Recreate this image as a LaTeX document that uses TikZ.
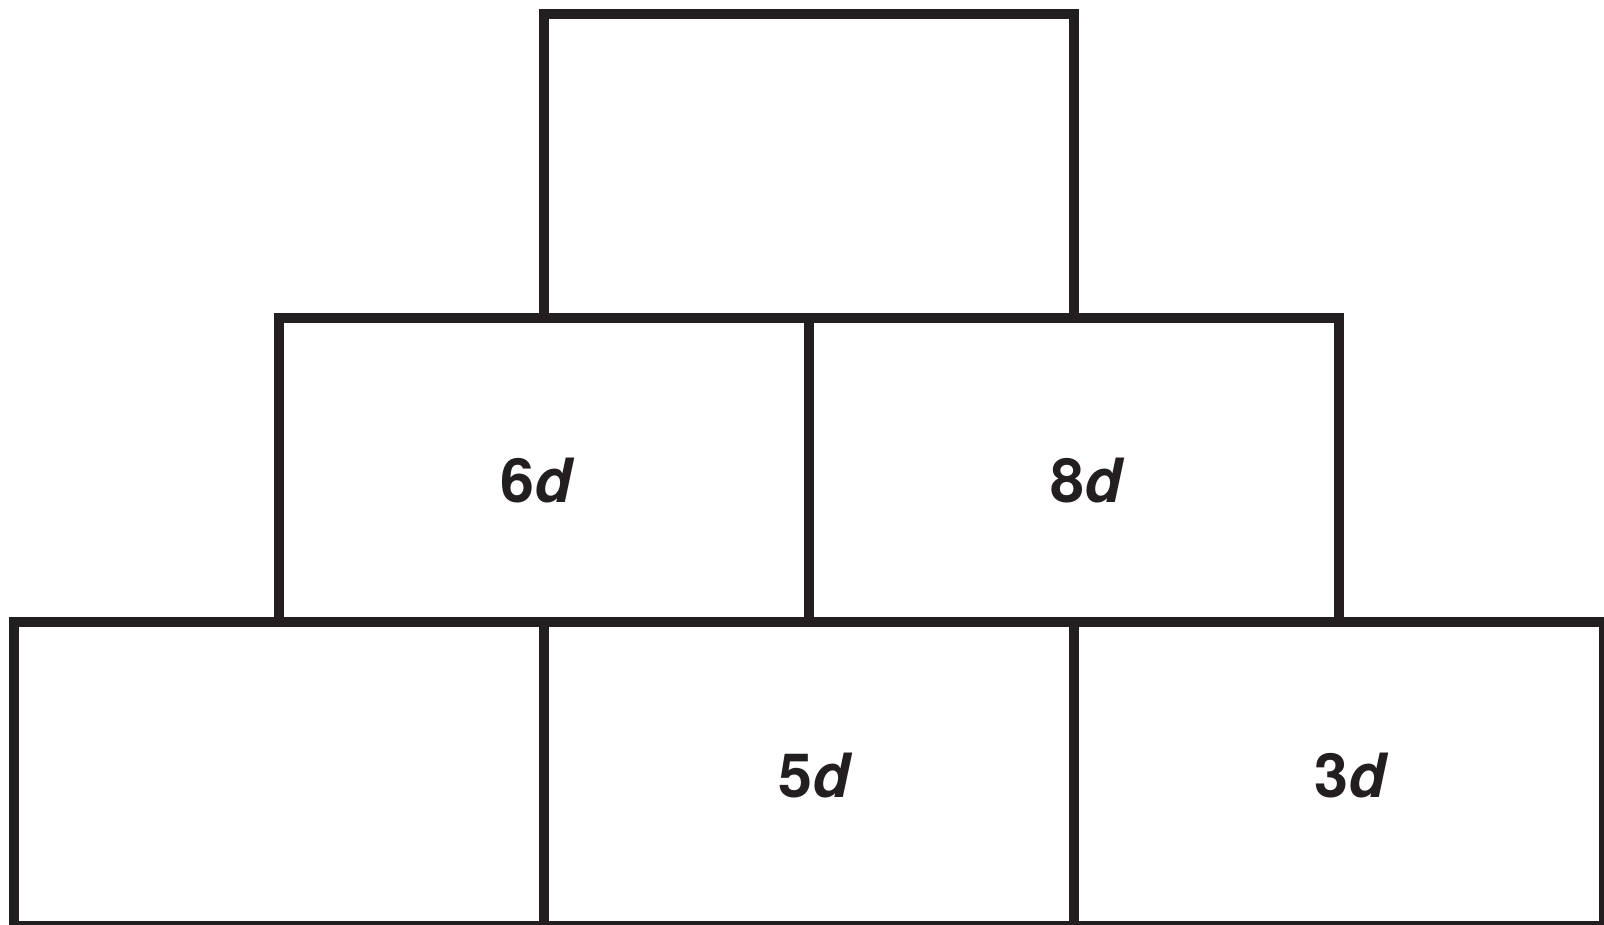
\documentclass[tikz,border=0pt]{standalone}
\usepackage{fontspec}
\setmainfont{TeX Gyre Heros}
\definecolor{ink}{HTML}{231F20}
\begin{document}
\begin{tikzpicture}[x=1pt,y=-1pt,
  brick/.style={draw=ink,line width=10.5pt,rectangle,inner sep=0pt,outer sep=0pt,
    minimum width=530pt,minimum height=304pt},
  lab/.style={text=ink,inner sep=0pt,font=\fontsize{61}{66}\selectfont\bfseries}]
\useasboundingbox (0,0) rectangle (1604,925);
\clip (0,0) rectangle (1604,925);
\fill[white] (0,0) rectangle (1604,925);
% bottom row
\node[brick] (b1) at (279,774) {};
\node[brick] (b2) at (809,774) {};
\node[brick] (b3) at (1339,774) {};
% middle row
\node[brick] (m1) at (544,470) {};
\node[brick] (m2) at (1074,470) {};
% top
\node[brick] (t1) at (809,166) {};
% labels
\node[lab] (l6) at (538,481) {6\textit{d}};
\node[lab] (l8) at (1088,481) {8\textit{d}};
\node[lab] (l5) at (816,776) {5\textit{d}};
\node[lab] (l3) at (1352,776) {3\textit{d}};
\end{tikzpicture}
\end{document}
